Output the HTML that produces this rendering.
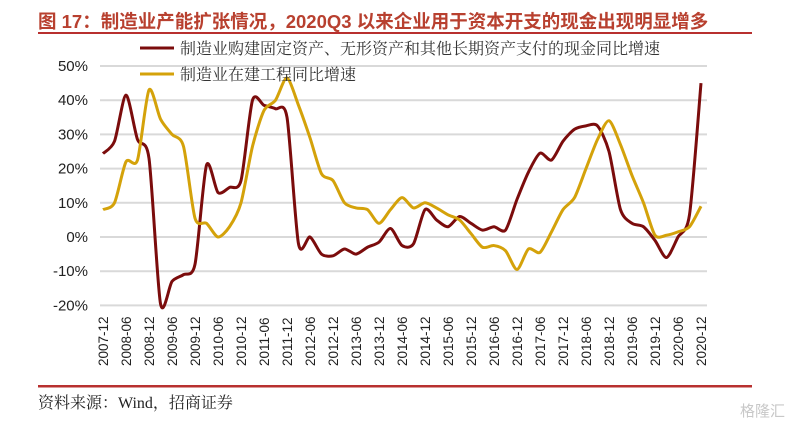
<!DOCTYPE html>
<html><head><meta charset="utf-8">
<style>
body{margin:0;background:#fff;width:805px;height:431px;overflow:hidden;font-family:"Liberation Sans","Noto Sans CJK SC",sans-serif;}
</style></head>
<body>
<svg width="805" height="431" viewBox="0 0 805 431" xmlns="http://www.w3.org/2000/svg">
<text x="38" y="28" font-size="18.5" font-weight="bold" fill="#b8402f" font-family="Liberation Sans, Noto Sans CJK SC, sans-serif">图 17：制造业产能扩张情况，2020Q3 以来企业用于资本开支的现金出现明显增多</text>
<rect x="38" y="32" width="714" height="2" fill="#b8302f"/>
<g id="grid"></g>
<g id="ylab"></g>
<g id="xlab"></g>
<g id="series"></g>
<g>
<line x1="140" y1="48" x2="174" y2="48" stroke="#7b0c0c" stroke-width="3"/>
<text x="180" y="54" font-size="16" fill="#333" font-family="Liberation Serif, Noto Serif CJK SC, serif">制造业购建固定资产、无形资产和其他长期资产支付的现金同比增速</text>
<line x1="140" y1="74" x2="174" y2="74" stroke="#d4a20a" stroke-width="3"/>
<text x="180" y="80" font-size="16" fill="#333" font-family="Liberation Serif, Noto Serif CJK SC, serif">制造业在建工程同比增速</text>
</g>
<rect x="38" y="385" width="714" height="2.5" fill="#b8302f"/>
<text x="38" y="408" font-size="16" fill="#222" font-family="Liberation Serif, Noto Serif CJK SC, serif">资料来源：Wind，招商证券</text>
<text x="740" y="416" font-size="15" fill="#c8c8c8">格隆汇</text>
</svg>
<script>
const yTicks=[50,40,30,20,10,0,-10,-20];
const xLabels=["2007-12","2008-06","2008-12","2009-06","2009-12","2010-06","2010-12","2011-06","2011-12","2012-06","2012-12","2013-06","2013-12","2014-06","2014-12","2015-06","2015-12","2016-06","2016-12","2017-06","2017-12","2018-06","2018-12","2019-06","2019-12","2020-06","2020-12"];
const capex=[24.4,28,41.5,28.5,23,-19.5,-13,-11,-8,21,13,14.5,16.5,40,38.5,37.5,35,-2,0,-5,-5.5,-3.5,-5,-3,-1.5,2.5,-2.5,-2,8,5,3,6,4,2,3,2,11,19,24.5,22.5,28,31.5,32.5,32.5,25,8,4,3,-1,-6,0,6.5,45];
const construction=[8,10,22,22.5,43,34.5,30,26.5,5.5,4,0,3,10,26.5,37,40,46.5,38.5,29,18.5,16.5,10,8.5,8,4,8,11.5,8.5,10,8.5,6.5,5,1,-3,-2.5,-4,-9.5,-3.5,-4.5,1.5,8,11.5,20,28.5,34,27,18,10,0.5,0.5,1.5,3,9];
const NS='http://www.w3.org/2000/svg';
const x0=103,dxq=11.5,xL=100,xR=707;
function X(i){return x0+dxq*i;}
function Y(v){return 237-v*3.42;}
function mk(t,a,p){const e=document.createElementNS(NS,t);for(const k in a)e.setAttribute(k,a[k]);p.appendChild(e);return e;}
const grid=document.getElementById('grid'),ylab=document.getElementById('ylab'),xlab=document.getElementById('xlab'),ser=document.getElementById('series');
yTicks.forEach(v=>{
 const l=mk('line',{x1:xL,x2:xR,y1:Y(v),y2:Y(v),stroke:'#d9d9d9','stroke-width':2},grid);
 
 
 const t=mk('text',{x:88,y:Y(v)+5,'text-anchor':'end','font-size':15,fill:'#222'},ylab);
 t.textContent=v+'%';
 
 
});
xLabels.forEach((s,i)=>{
 const x=X(i*2)+5;
 const t=mk('text',{x:0,y:0,transform:`translate(${x},366) rotate(-90)`,'font-size':13.5,fill:'#222'},xlab);
 t.textContent=s;
 
 
});
function path(vals){
 const p=vals.map((v,i)=>[X(i),Y(v)]);
 let d=`M${p[0][0]},${p[0][1]}`;
 for(let i=0;i<p.length-1;i++){
  const a=p[i-1]||p[i],b=p[i],c=p[i+1],e=p[i+2]||c;
  const k=0.13;
  d+=` C${b[0]+(c[0]-a[0])*k},${b[1]+(c[1]-a[1])*k} ${c[0]-(e[0]-b[0])*k},${c[1]-(e[1]-b[1])*k} ${c[0]},${c[1]}`;
 }
 return d;
}
const l1=mk('path',{d:path(capex),fill:'none',stroke:'#7b0c0c','stroke-width':3,'stroke-linejoin':'round'},ser);


const l2=mk('path',{d:path(construction),fill:'none',stroke:'#d4a20a','stroke-width':3,'stroke-linejoin':'round'},ser);


</script>
</body></html>
